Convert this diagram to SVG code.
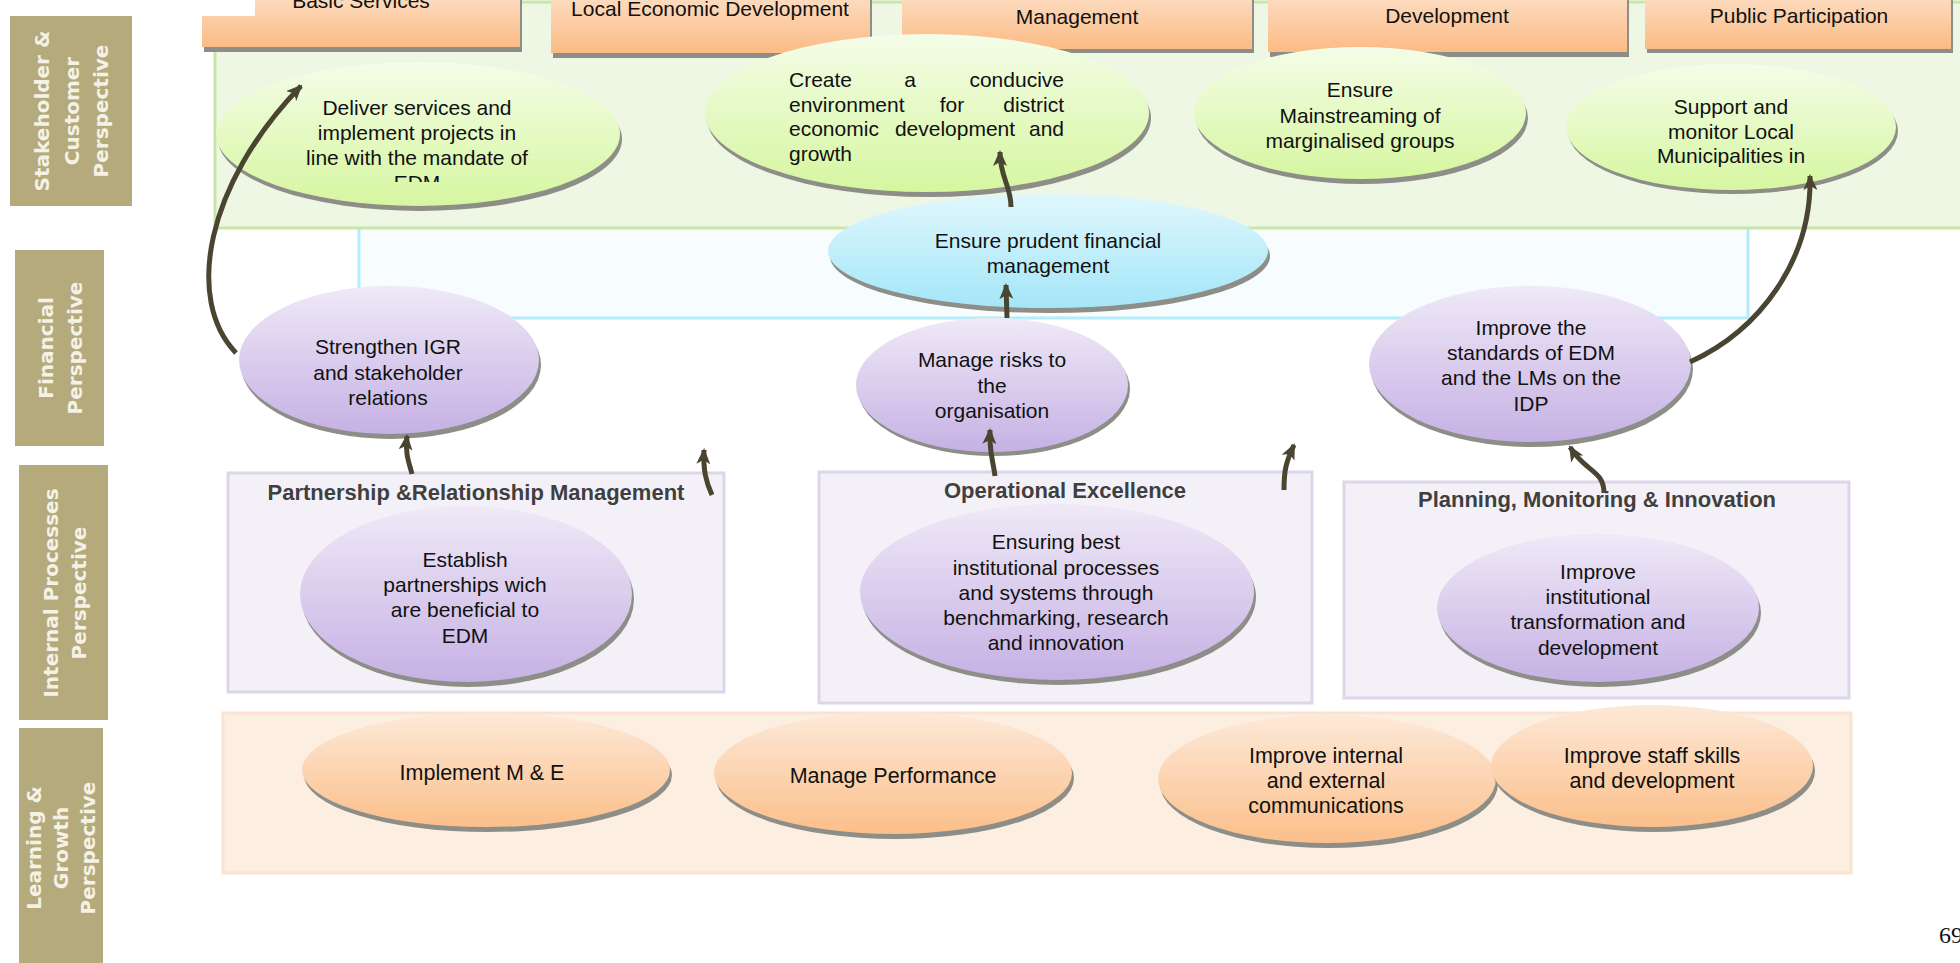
<svg xmlns="http://www.w3.org/2000/svg" width="1960" height="963" viewBox="0 0 1960 963">
<style>
.lbl{font-family:"DejaVu Sans",sans-serif;font-weight:bold;font-size:20px;fill:#f4f1e6;text-anchor:middle}
.t{font-family:"Liberation Sans",Arial,sans-serif;font-size:21px;fill:#111;text-anchor:middle}
.tb{font-family:"Liberation Sans",Arial,sans-serif;font-size:21.5px;fill:#111;text-anchor:middle}
.hdr{font-family:"Liberation Sans",Arial,sans-serif;font-size:22px;font-weight:bold;fill:#3f3f3f;text-anchor:middle}
.tan{fill:#b4aa7c}
.sh{fill:#8e8e88}
.box{fill:url(#gOrangeBox)}
.grp{fill:#f3f1f7;stroke:#dcd6e8;stroke-width:3}
.conn{fill:none;stroke:#4a4530;stroke-width:5;marker-end:url(#ah)}
</style>
<defs>
<linearGradient id="gOrangeBox" x1="0" y1="0" x2="0" y2="1"><stop offset="0" stop-color="#fde0c8"/><stop offset="1" stop-color="#fbbb84"/></linearGradient>
<linearGradient id="gGreen" x1="0" y1="0" x2="0" y2="1"><stop offset="0" stop-color="#f4fde8"/><stop offset="1" stop-color="#d6f6a0"/></linearGradient>
<linearGradient id="gBlue" x1="0" y1="0" x2="0" y2="1"><stop offset="0" stop-color="#e0f7fd"/><stop offset="1" stop-color="#a4e6f8"/></linearGradient>
<linearGradient id="gPurple" x1="0" y1="0" x2="0" y2="1"><stop offset="0" stop-color="#efe9f7"/><stop offset="1" stop-color="#c6b1e4"/></linearGradient>
<linearGradient id="gOrange" x1="0" y1="0" x2="0" y2="1"><stop offset="0" stop-color="#fde9d8"/><stop offset="1" stop-color="#fbbf8a"/></linearGradient>
<marker id="ah" viewBox="0 0 16 14" markerWidth="16" markerHeight="14" refX="14" refY="7" orient="auto" markerUnits="userSpaceOnUse">
<path d="M0,0 L16,7 L0,14 L4,7 z" fill="#4a4530"/>
</marker>
<clipPath id="clipDeliver"><rect x="200" y="60" width="440" height="122"/></clipPath>
</defs>
<rect width="1960" height="963" fill="#ffffff"/>

<!-- perspective regions -->
<g id="regions">
<rect x="359" y="222" width="1389" height="96" fill="#f7fcfe" stroke="#b4ecfa" stroke-width="3"/>
<rect x="215" y="2" width="1760" height="226" fill="#eef6e4" stroke="#c8e6a8" stroke-width="3"/>
<rect x="223" y="713" width="1628" height="160" fill="#fdeee2" stroke="#fbe3cf" stroke-width="3"/>
</g>

<!-- top header boxes -->
<g id="hdr-basic">
<rect class="sh" x="204" y="-10" width="318" height="62"/>
<rect class="box" x="202" y="-10" width="318" height="57"/>
<text class="t" x="361" y="8">Basic Services</text>
</g>
<g id="hdr-led">
<rect class="sh" x="553" y="-10" width="319" height="68"/>
<rect class="box" x="551" y="-10" width="319" height="63"/>
<text class="t" x="710" y="16">Local Economic Development</text>
</g>
<g id="hdr-mgmt">
<rect class="sh" x="904" y="-10" width="350" height="63"/>
<rect class="box" x="902" y="-10" width="350" height="59"/>
<text class="t" x="1077" y="24">Management</text>
</g>
<g id="hdr-dev">
<rect class="sh" x="1270" y="-10" width="359" height="67"/>
<rect class="box" x="1268" y="-10" width="359" height="62"/>
<text class="t" x="1447" y="23">Development</text>
</g>
<g id="hdr-public">
<rect class="sh" x="1647" y="-10" width="306" height="63"/>
<rect class="box" x="1645" y="-10" width="306" height="59"/>
<text class="t" x="1799" y="23">Public Participation</text>
</g>
<rect x="12" y="0" width="243" height="16" fill="#ffffff"/>

<!-- perspective labels -->
<g id="lbl-stakeholder">
<rect class="tan" x="10" y="16" width="122" height="190"/>
<text class="lbl" transform="translate(71,111) rotate(-90)"><tspan x="0" y="-22">Stakeholder &amp;</tspan><tspan x="0" dy="29.5">Customer</tspan><tspan x="0" dy="29.5">Perspective</tspan></text>
</g>
<g id="lbl-financial">
<rect class="tan" x="15" y="250" width="89" height="196"/>
<text class="lbl" transform="translate(60,348) rotate(-90)"><tspan x="0" y="-7">Financial</tspan><tspan x="0" dy="29">Perspective</tspan></text>
</g>
<g id="lbl-internal">
<rect class="tan" x="19" y="465" width="89" height="255"/>
<text class="lbl" transform="translate(64,593) rotate(-90)"><tspan x="0" y="-6.5">Internal Processes</tspan><tspan x="0" dy="28.5">Perspective</tspan></text>
</g>
<g id="lbl-learning">
<rect class="tan" x="19" y="728" width="84" height="240"/>
<text class="lbl" transform="translate(61,848) rotate(-90)"><tspan x="0" y="-20">Learning &amp;</tspan><tspan x="0" dy="27">Growth</tspan><tspan x="0" dy="27">Perspective</tspan></text>
</g>

<!-- stakeholder objectives -->
<g id="obj-deliver">
<ellipse class="sh" cx="420" cy="139" rx="202" ry="72"/>
<ellipse cx="418" cy="134" rx="202" ry="72" fill="url(#gGreen)"/>
<text class="t" clip-path="url(#clipDeliver)"><tspan x="417" y="115">Deliver services and</tspan><tspan x="417" y="140">implement projects in</tspan><tspan x="417" y="165">line with the mandate of</tspan><tspan x="417" y="190">EDM</tspan></text>
</g>
<g id="obj-create">
<ellipse class="sh" cx="929" cy="118" rx="222" ry="79"/>
<ellipse cx="927" cy="113" rx="222" ry="79" fill="url(#gGreen)"/>
<text class="t" style="text-anchor:start" x="789" y="87">Create</text>
<text class="t" x="910" y="87">a</text>
<text class="t" style="text-anchor:end" x="1064" y="87">conducive</text>
<text class="t" style="text-anchor:start" x="789" y="111.5">environment</text>
<text class="t" x="952" y="111.5">for</text>
<text class="t" style="text-anchor:end" x="1064" y="111.5">district</text>
<text class="t" style="text-anchor:start" x="789" y="136">economic</text>
<text class="t" x="955" y="136">development</text>
<text class="t" style="text-anchor:end" x="1064" y="136">and</text>
<text class="t" style="text-anchor:start" x="789" y="160.5">growth</text>
</g>
<g id="obj-mainstream">
<ellipse class="sh" cx="1362" cy="118" rx="166" ry="66"/>
<ellipse cx="1360" cy="113" rx="166" ry="66" fill="url(#gGreen)"/>
<text class="t"><tspan x="1360" y="97">Ensure</tspan><tspan x="1360" y="122.5">Mainstreaming of</tspan><tspan x="1360" y="148">marginalised groups</tspan></text>
</g>
<g id="obj-support">
<ellipse class="sh" cx="1733" cy="131" rx="165" ry="63"/>
<ellipse cx="1731" cy="127" rx="165" ry="63" fill="url(#gGreen)"/>
<text class="t"><tspan x="1731" y="114">Support and</tspan><tspan x="1731" y="138.5">monitor Local</tspan><tspan x="1731" y="163">Municipalities in</tspan></text>
</g>

<!-- financial objectives -->
<g id="obj-prudent">
<ellipse class="sh" cx="1050" cy="256" rx="220" ry="57"/>
<ellipse cx="1048" cy="251" rx="220" ry="57" fill="url(#gBlue)"/>
<text class="t"><tspan x="1048" y="248">Ensure prudent financial</tspan><tspan x="1048" y="273">management</tspan></text>
</g>
<g id="obj-igr">
<ellipse class="sh" cx="391" cy="365" rx="150" ry="74"/>
<ellipse cx="389" cy="360" rx="150" ry="74" fill="url(#gPurple)"/>
<text class="t"><tspan x="388" y="354">Strengthen IGR</tspan><tspan x="388" y="379.5">and stakeholder</tspan><tspan x="388" y="405">relations</tspan></text>
</g>
<g id="obj-risks">
<ellipse class="sh" cx="994" cy="389" rx="136" ry="67"/>
<ellipse cx="992" cy="385" rx="136" ry="67" fill="url(#gPurple)"/>
<text class="t"><tspan x="992" y="367">Manage risks to</tspan><tspan x="992" y="392.5">the</tspan><tspan x="992" y="418">organisation</tspan></text>
</g>
<g id="obj-standards">
<ellipse class="sh" cx="1532" cy="369" rx="161" ry="78"/>
<ellipse cx="1530" cy="364" rx="161" ry="78" fill="url(#gPurple)"/>
<text class="t"><tspan x="1531" y="335">Improve the</tspan><tspan x="1531" y="360">standards of EDM</tspan><tspan x="1531" y="385">and the LMs on the</tspan><tspan x="1531" y="410.5">IDP</tspan></text>
</g>

<!-- internal process groups -->
<g id="grp-partnership">
<rect class="grp" x="228" y="473" width="496" height="219"/>
<text class="hdr" x="476" y="500">Partnership &amp;Relationship Management</text>
<ellipse class="sh" cx="468" cy="599" rx="166" ry="88"/>
<ellipse cx="466" cy="594" rx="166" ry="88" fill="url(#gPurple)"/>
<text class="t"><tspan x="465" y="567">Establish</tspan><tspan x="465" y="592">partnerships wich</tspan><tspan x="465" y="617">are beneficial to</tspan><tspan x="465" y="643">EDM</tspan></text>
</g>
<g id="grp-operational">
<rect class="grp" x="819" y="472" width="493" height="231"/>
<text class="hdr" x="1065" y="498">Operational Excellence</text>
<ellipse class="sh" cx="1059" cy="597" rx="197" ry="88"/>
<ellipse cx="1057" cy="592" rx="197" ry="88" fill="url(#gPurple)"/>
<text class="t"><tspan x="1056" y="549">Ensuring best</tspan><tspan x="1056" y="574.5">institutional processes</tspan><tspan x="1056" y="599.5">and systems through</tspan><tspan x="1056" y="624.5">benchmarking, research</tspan><tspan x="1056" y="650">and innovation</tspan></text>
</g>
<g id="grp-planning">
<rect class="grp" x="1344" y="482" width="505" height="216"/>
<text class="hdr" x="1597" y="507">Planning, Monitoring &amp; Innovation</text>
<ellipse class="sh" cx="1600" cy="613" rx="161" ry="74"/>
<ellipse cx="1598" cy="608" rx="161" ry="74" fill="url(#gPurple)"/>
<text class="t"><tspan x="1598" y="579">Improve</tspan><tspan x="1598" y="604">institutional</tspan><tspan x="1598" y="629">transformation and</tspan><tspan x="1598" y="655">development</tspan></text>
</g>

<!-- learning & growth objectives -->
<g id="obj-me">
<ellipse class="sh" cx="488" cy="775" rx="184" ry="57"/>
<ellipse cx="486" cy="770" rx="184" ry="57" fill="url(#gOrange)"/>
<text class="tb" x="482" y="780">Implement M &amp; E</text>
</g>
<g id="obj-perf">
<ellipse class="sh" cx="895" cy="778" rx="179" ry="61"/>
<ellipse cx="893" cy="773" rx="179" ry="61" fill="url(#gOrange)"/>
<text class="tb" x="893" y="783">Manage Performance</text>
</g>
<g id="obj-comms">
<ellipse class="sh" cx="1329" cy="784" rx="169" ry="64"/>
<ellipse cx="1327" cy="779" rx="169" ry="64" fill="url(#gOrange)"/>
<text class="tb"><tspan x="1326" y="763">Improve internal</tspan><tspan x="1326" y="788">and external</tspan><tspan x="1326" y="813">communications</tspan></text>
</g>
<g id="obj-skills">
<ellipse class="sh" cx="1654" cy="771" rx="161" ry="61"/>
<ellipse cx="1652" cy="766" rx="161" ry="61" fill="url(#gOrange)"/>
<text class="tb"><tspan x="1652" y="763">Improve staff skills</tspan><tspan x="1652" y="788">and development</tspan></text>
</g>

<!-- connectors -->
<g id="connectors">
<path class="conn" d="M 236 353 C 185 300, 205 185, 301 86"/>
<path class="conn" d="M 1690 362 C 1760 330, 1812 260, 1810 176"/>
<path class="conn" d="M 412 474 C 409 462, 405 455, 407 436"/>
<path class="conn" d="M 1007 318 L 1006 285"/>
<path class="conn" d="M 1011 207 C 1011 185, 1000 178, 1000 152"/>
<path class="conn" d="M 995 476 C 993 460, 989 452, 990 430"/>
<path class="conn" d="M 1604 493 C 1604 470, 1585 472, 1570 447"/>
<path class="conn" d="M 712 495 C 706 482, 703 470, 704 450"/>
<path class="conn" d="M 1284 490 C 1284 470, 1286 462, 1294 445"/>
</g>

<text x="1939" y="943" font-family="Liberation Serif, serif" font-size="24" fill="#111">69</text>
</svg>
